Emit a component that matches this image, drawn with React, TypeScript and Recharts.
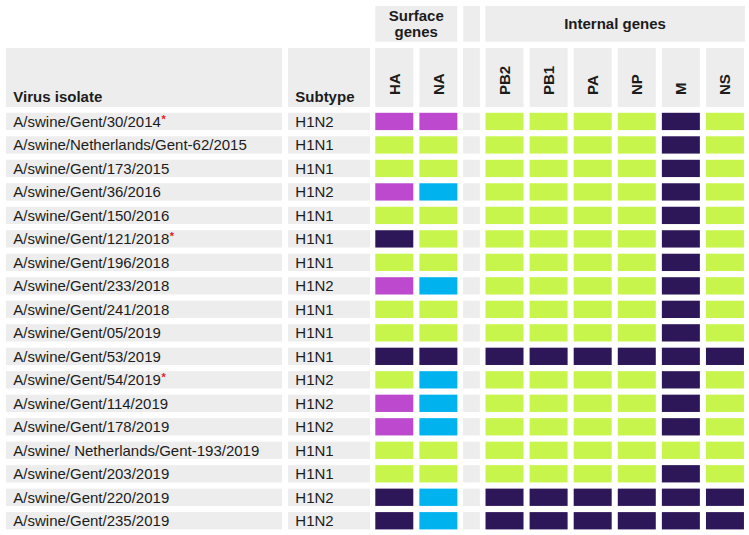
import { ScatterChart, Scatter, XAxis, YAxis } from 'recharts'

const FONT = '"Liberation Sans", Arial, Helvetica, sans-serif'
const GREY = '#ededed'
const TEXT = '#1c1c1c'
const LINEAGE_COLORS: Record<string, string> = {
  g: '#c8f54b', // lime
  n: '#2e1759', // dark navy
  m: '#bd49ce', // magenta
  c: '#00b3ef', // cyan
}

const isolates = [
  'A/swine/Gent/30/2014',
  'A/swine/Netherlands/Gent-62/2015',
  'A/swine/Gent/173/2015',
  'A/swine/Gent/36/2016',
  'A/swine/Gent/150/2016',
  'A/swine/Gent/121/2018',
  'A/swine/Gent/196/2018',
  'A/swine/Gent/233/2018',
  'A/swine/Gent/241/2018',
  'A/swine/Gent/05/2019',
  'A/swine/Gent/53/2019',
  'A/swine/Gent/54/2019',
  'A/swine/Gent/114/2019',
  'A/swine/Gent/178/2019',
  'A/swine/ Netherlands/Gent-193/2019',
  'A/swine/Gent/203/2019',
  'A/swine/Gent/220/2019',
  'A/swine/Gent/235/2019',
]
const flagged = ['A/swine/Gent/30/2014', 'A/swine/Gent/121/2018', 'A/swine/Gent/54/2019']
const subtypes = [
  'H1N2', 'H1N1', 'H1N1', 'H1N2', 'H1N1', 'H1N1', 'H1N1', 'H1N2', 'H1N1',
  'H1N1', 'H1N1', 'H1N2', 'H1N2', 'H1N2', 'H1N1', 'H1N1', 'H1N2', 'H1N2',
]

const genes = ['HA', 'NA', 'PB2', 'PB1', 'PA', 'NP', 'M', 'NS']
const HA = ['m', 'g', 'g', 'm', 'g', 'n', 'g', 'm', 'g', 'g', 'n', 'g', 'm', 'm', 'g', 'g', 'n', 'n']
const NA = ['m', 'g', 'g', 'c', 'g', 'g', 'g', 'c', 'g', 'g', 'n', 'c', 'c', 'c', 'g', 'g', 'c', 'c']
const PB2 = ['g', 'g', 'g', 'g', 'g', 'g', 'g', 'g', 'g', 'g', 'n', 'g', 'g', 'g', 'g', 'g', 'n', 'n']
const PB1 = ['g', 'g', 'g', 'g', 'g', 'g', 'g', 'g', 'g', 'g', 'n', 'g', 'g', 'g', 'g', 'g', 'n', 'n']
const PA = ['g', 'g', 'g', 'g', 'g', 'g', 'g', 'g', 'g', 'g', 'n', 'g', 'g', 'g', 'g', 'g', 'n', 'n']
const NP = ['g', 'g', 'g', 'g', 'g', 'g', 'g', 'g', 'g', 'g', 'n', 'g', 'g', 'g', 'g', 'g', 'n', 'n']
const M = ['n', 'n', 'n', 'n', 'n', 'n', 'n', 'n', 'n', 'n', 'n', 'n', 'n', 'n', 'g', 'n', 'n', 'n']
const NS = ['g', 'g', 'g', 'g', 'g', 'g', 'g', 'g', 'g', 'g', 'n', 'g', 'g', 'g', 'g', 'g', 'n', 'n']
const segments = [HA, NA, PB2, PB1, PA, NP, M, NS]

// surface genes sit at 0,1; internal genes are pushed right by half a column
const geneX = (i: number) => (i < 2 ? i : i + 0.5)
const SPACER_X = 1.75
const ROW_H = 17.3

const geneData = genes.map((_, gi) =>
  isolates.map((_, ri) => ({ x: geneX(gi), y: ri, lineage: segments[gi][ri] }))
)
const spacerData = isolates.map((_, ri) => ({ x: SPACER_X, y: ri, lineage: '' }))

const xTicks = [0, 1, SPACER_X, 2.5, 3.5, 4.5, 5.5, 6.5, 7.5]

const cellShape = (w: number) => (props: any) => {
  const fill = LINEAGE_COLORS[props.payload?.lineage] ?? GREY
  return <rect x={props.cx - w / 2} y={props.cy - ROW_H / 2} width={w} height={ROW_H} fill={fill} />
}

const GeneTick = ({ x, payload }: any) => {
  const v = payload.value
  if (Math.abs(v - SPACER_X) < 0.01) {
    return <rect x={x - 8.35} y={48} width={16.7} height={59} fill={GREY} />
  }
  const idx = genes.findIndex((_, i) => Math.abs(geneX(i) - v) < 0.01)
  return (
    <g>
      <rect x={x - 19} y={48} width={38} height={59} fill={GREY} />
      <text
        x={x + 5.5}
        y={95}
        transform={`rotate(-90, ${x + 5.5}, 95)`}
        fontFamily={FONT}
        fontSize={15}
        fontWeight="bold"
        fill={TEXT}
      >
        {genes[idx]}
      </text>
    </g>
  )
}

const IsolateTick = ({ y, payload }: any) => {
  const i = Math.round(payload.value)
  const name = isolates[i]
  return (
    <g>
      <rect x={6} y={y - ROW_H / 2} width={276} height={ROW_H} fill={GREY} />
      <rect x={288} y={y - ROW_H / 2} width={82} height={ROW_H} fill={GREY} />
      <text x={13.3} y={y + 5.3} fontFamily={FONT} fontSize={15} fill={TEXT}>
        {name}
        {flagged.includes(name) && (
          <tspan fill="#e32322" fontSize={11} fontWeight="bold" dx={0.5} dy={-4}>*</tspan>
        )}
      </text>
      <text x={295.3} y={y + 5.3} fontFamily={FONT} fontSize={15} fill={TEXT}>
        {subtypes[i]}
      </text>
    </g>
  )
}

export default function App() {
  return (
    <div style={{ position: 'absolute', left: 0, top: 0, width: 749, height: 535, background: '#fff' }}>
      <ScatterChart width={749} height={535} margin={{ top: 0, right: 2, bottom: 2.5, left: 0 }}>
        <XAxis
          type="number"
          dataKey="x"
          orientation="top"
          domain={[-0.5, 8]}
          ticks={xTicks}
          interval={0}
          height={109.7}
          axisLine={false}
          tickLine={false}
          tick={<GeneTick />}
        />
        <YAxis
          type="number"
          dataKey="y"
          domain={[-0.5, 17.5]}
          reversed
          ticks={isolates.map((_, i) => i)}
          interval={0}
          width={372.25}
          axisLine={false}
          tickLine={false}
          tick={<IsolateTick />}
        />
        <Scatter data={spacerData} shape={cellShape(16.7)} isAnimationActive={false} />
        {geneData.map((d, gi) => (
          <Scatter key={genes[gi]} data={d} shape={cellShape(38)} isAnimationActive={false} />
        ))}
        <g fontFamily={FONT} fontWeight="bold" fontSize={15} fill={TEXT}>
          <rect x={6} y={48} width={276} height={59} fill={GREY} />
          <rect x={288} y={48} width={82} height={59} fill={GREY} />
          <text x={13.3} y={102.3}>Virus isolate</text>
          <text x={295.3} y={102.3}>Subtype</text>
          <rect x={375.3} y={6} width={82} height={35.7} fill={GREY} />
          <rect x={463.3} y={6} width={16.7} height={35.7} fill={GREY} />
          <rect x={485.3} y={6} width={259.7} height={35.7} fill={GREY} />
          <text x={416.3} y={20.7} textAnchor="middle">Surface</text>
          <text x={416.3} y={36.5} textAnchor="middle">genes</text>
          <text x={615} y={29.3} textAnchor="middle">Internal genes</text>
        </g>
      </ScatterChart>
    </div>
  )
}
